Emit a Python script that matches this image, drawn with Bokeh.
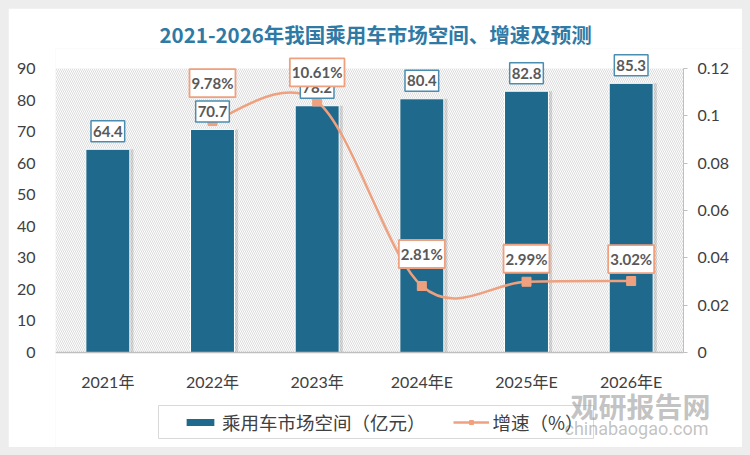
from bokeh.plotting import figure
from bokeh.models import (Range1d, LinearAxis, FixedTicker, CustomJSTickFormatter,
                          ColumnDataSource, Label, Legend, LegendItem, BoxAnnotation, Title)
from bokeh.transform import dodge
from bokeh.embed import file_html
from bokeh.resources import INLINE

# ---------------- data ----------------
categories = ["2021年", "2022年", "2023年", "2024年E", "2025年E", "2026年E"]
market_size = [64.4, 70.7, 78.2, 80.4, 82.8, 85.3]          # 亿元
growth_years = ["2022年", "2023年", "2024年E", "2025年E", "2026年E"]
growth_pct = [9.78, 10.61, 2.81, 2.99, 3.02]                 # %
left_ticks = [0, 10, 20, 30, 40, 50, 60, 70, 80, 90]
right_ticks = [0, 0.02, 0.04, 0.06, 0.08, 0.10, 0.12]
left_max, right_max = 90, 0.12

# ---------------- layout / style ----------------
growth_label_dy = [38, 29, 32, 23, 22]   # px above point
bar_label_dy = 18
AXIS_PX = 284          # pixel height of the 0..90 axis span
ABOVE_PX = 20          # frame room above the axis top (for labels)
BELOW_PX = 95          # frame room below the axis zero (tick labels / legend)
AREA_W_PX = 628        # pixel width of the category area
RIGHT_PX = 59          # frame room right of the category area (right axis labels)
LEGEND_BOX_PX = (103, 538, 86, 53)   # left, right (from area left), bottom, top (below zero)
px_per = AXIS_PX / left_max
n_cat = len(categories)
px_per_cat = AREA_W_PX / n_cat

TEAL = "#1F6A8C"
TEAL_BORDER = "#4A8DB0"
ORANGE = "#EFA07E"
TXT = "#404040"
LBL = "#595959"
NUM_FONT = "Lato, 'Noto Sans CJK SC'"
CJK_FONT = "'Noto Sans CJK SC'"

x_idx = list(range(n_cat))
gx = [categories.index(c) for c in growth_years]
gy = [v / 100.0 for v in growth_pct]

src = ColumnDataSource(dict(x=x_idx, top=market_size))

x_lo, x_area_hi = -0.5, n_cat - 0.5
x_hi = x_area_hi + RIGHT_PX / px_per_cat
y_lo = -BELOW_PX / px_per
y_hi = left_max + ABOVE_PX / px_per
r_scale = right_max / left_max

p = figure(width=734, height=439,
           x_range=Range1d(x_lo, x_hi),
           y_range=Range1d(y_lo, y_hi),
           output_backend="svg", toolbar_location=None,
           min_border_left=47, min_border_right=0,
           min_border_top=40, min_border_bottom=0)
p.extra_y_ranges = {"g": Range1d(y_lo * r_scale, y_hi * r_scale)}
p.outline_line_color = None
p.grid.visible = False
p.background_fill_color = "white"
p.border_fill_color = "white"

p.title = Title(text="2021-2026年我国乘用车市场空间、增速及预测", align="left",
                text_font=CJK_FONT, text_font_size="20.5px", text_font_style="bold",
                text_color="#2F7AA5", standoff=0, offset=104)

# hatched plot area
p.add_layout(BoxAnnotation(left=x_lo, right=x_area_hi, bottom=0, top=left_max,
                           fill_color="white", fill_alpha=1.0,
                           line_color=None, hatch_pattern="\\", hatch_color="#D2D2D2",
                           hatch_scale=4, hatch_weight=0.8, level="underlay"))

# legend frame (placed from pixel layout constants)
lb_l, lb_r, lb_b, lb_t = LEGEND_BOX_PX
p.quad(left=[x_lo + lb_l / px_per_cat], right=[x_lo + lb_r / px_per_cat],
       bottom=[-lb_b / px_per], top=[-lb_t / px_per],
       fill_color="white", line_color="#D9D9D9", line_width=1)

# bars (with soft shadow)
p.vbar(x=dodge("x", 0.035, range=p.x_range), top="top", width=0.42, source=src,
       fill_color="#000000", fill_alpha=0.13, line_color=None)
bars = p.vbar(x="x", top="top", width=0.42, source=src,
              fill_color=TEAL, line_color="white", line_width=1)

# smoothed growth line (Catmull-Rom bezier through the points)
pts = list(zip(gx, gy))
n = len(pts)
bx0, by0, bx1, by1, cx0, cy0, cx1, cy1 = [], [], [], [], [], [], [], []
for i in range(n - 1):
    p0 = pts[i - 1] if i > 0 else pts[i]
    p1 = pts[i]
    p2 = pts[i + 1]
    p3 = pts[i + 2] if i + 2 < n else pts[i + 1]
    bx0.append(p1[0]); by0.append(p1[1])
    bx1.append(p2[0]); by1.append(p2[1])
    cx0.append(p1[0] + (p2[0] - p0[0]) / 6.0); cy0.append(p1[1] + (p2[1] - p0[1]) / 6.0)
    cx1.append(p2[0] - (p3[0] - p1[0]) / 6.0); cy1.append(p2[1] - (p3[1] - p1[1]) / 6.0)
p.bezier(x0=bx0, y0=by0, x1=bx1, y1=by1, cx0=cx0, cy0=cy0, cx1=cx1, cy1=cy1,
         y_range_name="g", line_color=ORANGE, line_width=2.5)
marks = p.scatter(gx, gy, marker="square", size=9, y_range_name="g",
                  fill_color=ORANGE, line_color=ORANGE)
# single-point line: draws nothing in the plot, provides the legend's line glyph
legend_line = p.line(x=gx[:1], y=gy[:1], y_range_name="g", line_color=ORANGE, line_width=2.5)

# axes
p.yaxis.ticker = FixedTicker(ticks=left_ticks)
p.yaxis.axis_line_color = None
p.yaxis.major_tick_line_color = None
p.yaxis.minor_tick_line_color = None
p.yaxis.major_label_text_font = NUM_FONT
p.yaxis.major_label_text_font_size = "16px"
p.yaxis.major_label_text_color = TXT
p.yaxis.major_label_standoff = 14

p.xaxis.fixed_location = 0
p.xaxis.bounds = (x_lo, x_area_hi)
p.xaxis.ticker = FixedTicker(ticks=x_idx)
p.xaxis.major_label_overrides = {i: c for i, c in zip(x_idx, categories)}
p.xaxis.axis_line_color = "#BFBFBF"
p.xaxis.axis_line_width = 1.5
p.xaxis.major_tick_line_color = None
p.xaxis.minor_tick_line_color = None
p.xaxis.major_label_text_font = NUM_FONT
p.xaxis.major_label_text_font_size = "16px"
p.xaxis.major_label_text_color = TXT
p.xaxis.major_label_standoff = 13

raxis = LinearAxis(y_range_name="g", ticker=FixedTicker(ticks=right_ticks), bounds=(0, right_max),
                   fixed_location=x_area_hi,
                   formatter=CustomJSTickFormatter(code="return String(parseFloat(tick.toFixed(2)));"))
raxis.axis_line_color = "#BFBFBF"
raxis.major_tick_line_color = "#BFBFBF"
raxis.major_tick_in = 0
raxis.major_tick_out = 4
raxis.minor_tick_line_color = None
raxis.major_label_text_font = NUM_FONT
raxis.major_label_text_font_size = "16px"
raxis.major_label_text_color = TXT
raxis.major_label_standoff = 10
p.add_layout(raxis, "right")

# value labels
for i, v in zip(x_idx, market_size):
    p.add_layout(Label(x=i, y=v, y_offset=bar_label_dy, text=f"{v:.1f}",
                       text_align="center", text_baseline="middle",
                       text_font=NUM_FONT, text_font_style="bold", text_font_size="15px",
                       text_color=LBL, background_fill_color="white",
                       border_line_color=TEAL_BORDER, border_line_width=1.5, padding=(2, 5)))
for i, v, dy in zip(gx, growth_pct, growth_label_dy):
    p.add_layout(Label(x=i, y=v / 100.0, y_range_name="g", y_offset=dy, text=f"{v:.2f}%",
                       text_align="center", text_baseline="middle",
                       text_font=NUM_FONT, text_font_style="bold", text_font_size="15px",
                       text_color=LBL, background_fill_color="white",
                       border_line_color=ORANGE, border_line_width=1.8, padding=(2, 5)))

legend = Legend(items=[LegendItem(label="乘用车市场空间（亿元）", renderers=[bars]),
                       LegendItem(label="增速（%）", renderers=[legend_line, marks])],
                orientation="horizontal", location=(127, 12),
                border_line_color=None, background_fill_alpha=0,
                label_text_font=CJK_FONT, label_text_font_size="18.5px",
                label_text_color=TXT, glyph_width=36, glyph_height=10,
                spacing=27, padding=6, label_standoff=4, margin=0)
p.add_layout(legend)

# watermark (drawn over the legend)
p.add_layout(Label(x=585, y=42, x_units="screen", y_units="screen", text="观研报告网",
                   text_align="center", text_baseline="middle", text_font=CJK_FONT,
                   text_font_style="bold", text_font_size="28px", text_color="#9A9A9A",
                   text_alpha=0.6))
p.add_layout(Label(x=581, y=19, x_units="screen", y_units="screen", text="chinabaogao.com",
                   text_align="center", text_baseline="middle", text_font="Roboto",
                   text_font_size="18px", text_color="#9A9A9A", text_alpha=0.6))

html = file_html(p, INLINE)
html = html.replace("</head>",
                    "<style>html,body{background:#EDEDED !important;}"
                    "body{padding:8px !important;margin:0 !important;}</style></head>", 1)
open("out.html", "w").write(html)
